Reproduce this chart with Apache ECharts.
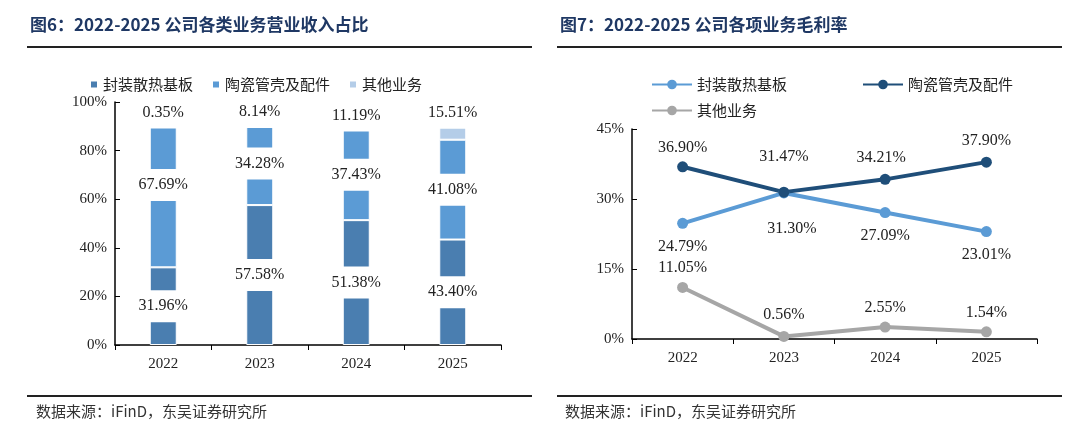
<!DOCTYPE html>
<html><head><meta charset="utf-8">
<script src="https://cdn.jsdelivr.net/npm/echarts@6/dist/echarts.min.js"></script>
<style>html,body{margin:0;padding:0;background:#fff}#c{width:1080px;height:436px}</style>
</head><body><div id="c"></div>
<script>
const years = ['2022','2023','2024','2025'];
const shareSubstrate = [31.96, 57.58, 51.38, 43.40];
const shareCeramic = [67.69, 34.28, 37.43, 41.08];
const shareOther = [0.35, 8.14, 11.19, 15.51];
const marginSubstrate = [24.79, 31.30, 27.09, 23.01];
const marginCeramic = [36.90, 31.47, 34.21, 37.90];
const marginOther = [11.05, 0.56, 2.55, 1.54];
const names = ['封装散热基板','陶瓷管壳及配件','其他业务'];
const leftTitle = '图6：2022-2025 公司各类业务营业收入占比';
const rightTitle = '图7：2022-2025 公司各项业务毛利率';
const source = '数据来源：iFinD，东吴证券研究所';

const serif = '"Liberation Serif","Noto Sans CJK SC",serif';
const cjk = '"Noto Sans CJK SC",sans-serif';
const c1 = '#4a7eb0', c2 = '#5b9bd5', c3 = '#b4cde8';
const lc1 = '#5b9bd5', lc2 = '#1f4e79', lc3 = '#a6a6a6';

const barLabel = {show:true, position:'inside', color:'#222', fontFamily:serif, fontSize:16,
  backgroundColor:'#fff', padding:[8,4], formatter:p=>p.value.toFixed(2)+'%'};
function bar(name, data, color, offsets){
  return {name, type:'bar', stack:'s', barWidth:27, xAxisIndex:0, yAxisIndex:0,
    data:data.map((v,i)=>offsets ? {value:v, label:{offset:offsets[i]}} : v),
    itemStyle:{color, borderColor:'#fff', borderWidth:1}, label:barLabel};
}
function line(name, data, color, positions, offsets){
  return {name, type:'line', data:data.map((v,i)=>({value:v, label:{position:positions[i], offset:offsets[i]}})),
    xAxisIndex:1, yAxisIndex:1, symbol:'circle', symbolSize:11,
    lineStyle:{width:4,color}, itemStyle:{color},
    label:{show:true, color:'#222', fontFamily:serif, fontSize:16, distance:8,
      formatter:p=>p.value.toFixed(2)+'%'}};
}
const axisLbl = {color:'#222', fontFamily:serif, fontSize:15};
const legText = {fontFamily:cjk, fontSize:15, color:'#222'};
const chart = echarts.init(document.getElementById('c'));
chart.setOption({
  animation:false,
  graphic:[
    {type:'text', left:30, top:16, style:{text:leftTitle, font:'bold 17px '+cjk, fill:'#1f3864'}},
    {type:'text', left:560, top:16, style:{text:rightTitle, font:'bold 17px '+cjk, fill:'#1f3864'}},
    {type:'rect', shape:{x:27,y:46,width:505,height:2}, style:{fill:'#222'}},
    {type:'rect', shape:{x:557,y:46,width:505,height:2}, style:{fill:'#222'}},
    {type:'rect', shape:{x:27,y:395,width:505,height:2}, style:{fill:'#222'}},
    {type:'rect', shape:{x:557,y:395,width:505,height:2}, style:{fill:'#222'}},
    {type:'text', left:36, top:404, style:{text:source, font:'15px '+cjk, fill:'#333'}},
    {type:'text', left:565, top:404, style:{text:source, font:'15px '+cjk, fill:'#333'}}
  ],
  legend:[
    {data:names, left:84, top:72, itemWidth:8, itemHeight:8, itemGap:18, icon:'rect', textStyle:legText},
    {data:[names[0]+' '], left:646, top:72, itemWidth:40, itemHeight:12, textStyle:legText},
    {data:[names[1]+' '], left:857, top:72, itemWidth:40, itemHeight:12, textStyle:legText},
    {data:[names[2]+' '], left:646, top:98, itemWidth:40, itemHeight:12, textStyle:legText}
  ],
  grid:[
    {left:115, top:102, width:386, height:243},
    {left:632, top:129, width:405, height:210}
  ],
  xAxis:[
    {type:'category', data:years, gridIndex:0, axisLine:{lineStyle:{color:'#000',width:1.5}},
      axisTick:{show:true, lineStyle:{color:'#000'}}, axisLabel:{...axisLbl, margin:12}},
    {type:'category', data:years, gridIndex:1, axisLine:{lineStyle:{color:'#000',width:1.5}},
      axisTick:{show:true, lineStyle:{color:'#000'}}, axisLabel:{...axisLbl, margin:12}}
  ],
  yAxis:[
    {type:'value', gridIndex:0, min:0, max:100, interval:20, splitLine:{show:false},
      axisLine:{show:true, lineStyle:{color:'#000',width:1.5}}, axisTick:{show:true, inside:true, lineStyle:{color:'#000'}},
      axisLabel:{...axisLbl, formatter:'{value}%'}},
    {type:'value', gridIndex:1, min:0, max:45, interval:15, splitLine:{show:false},
      axisLine:{show:true, lineStyle:{color:'#000',width:1.5}}, axisTick:{show:true, inside:true, lineStyle:{color:'#000'}},
      axisLabel:{...axisLbl, formatter:'{value}%'}}
  ],
  series:[
    bar(names[0], shareSubstrate, c1),
    bar(names[1], shareCeramic, c2),
    bar(names[2], shareOther, c3, [[0,10],[0,0],[0,0],[0,-8]]),
    line(names[0]+' ', marginSubstrate, lc1, ['bottom','bottom','bottom','bottom'], [[0,2],[8,14],[0,2],[0,2]]),
    line(names[1]+' ', marginCeramic, lc2, ['top','top','top','top'], [[0,2],[0,-14],[-4,0],[0,0]]),
    line(names[2]+' ', marginOther, lc3, ['top','top','top','top'], [[0,2],[0,0],[0,2],[0,2]])
  ]
});
</script></body></html>
